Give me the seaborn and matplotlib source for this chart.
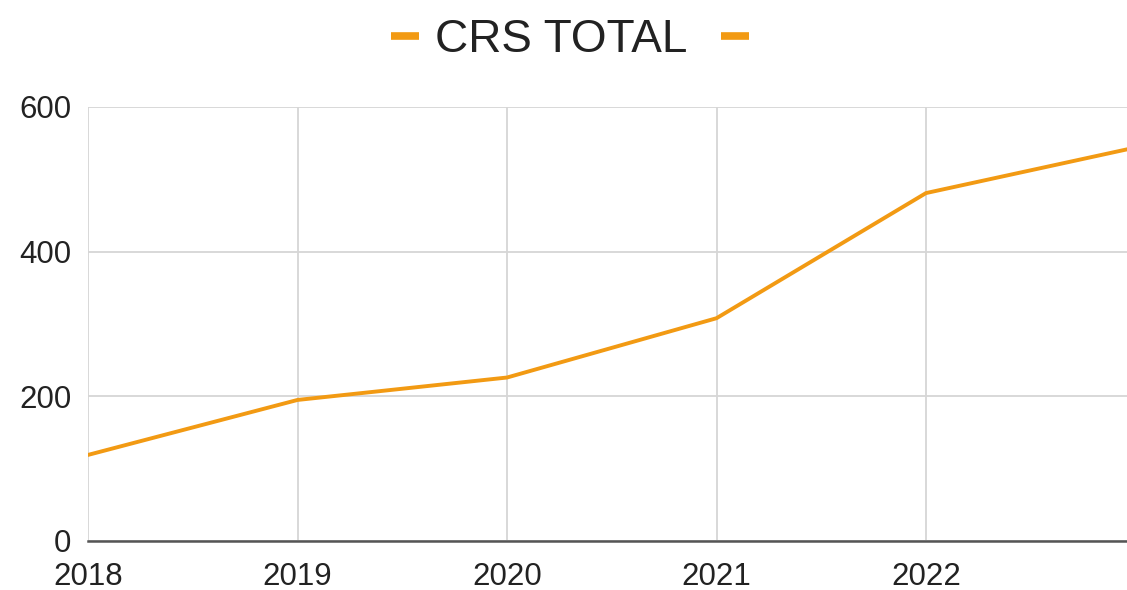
import matplotlib
matplotlib.use("Agg")
import matplotlib.pyplot as plt
from matplotlib.lines import Line2D
import seaborn as sns
import pandas as pd

# CRS total per year
years = [2018, 2019, 2020, 2021, 2022, 2023]
crs_total = [119, 195, 226, 308, 481, 544]
y_ticks = [0, 200, 400, 600]
x_ticks = [2018, 2019, 2020, 2021, 2022]
series_name = "CRS TOTAL"

LINE_COLOR = "#F29A13"
TEXT_COLOR = "#222222"
GRID_COLOR = "#d6d6d6"

sns.set_theme(style="whitegrid")
plt.rcParams["font.family"] = ["Liberation Sans", "DejaVu Sans"]

df = pd.DataFrame({"year": years, "value": crs_total})

W, H = 1127, 590
fig = plt.figure(figsize=(W / 100, H / 100), dpi=100)
# the plot area runs slightly past the right edge of the canvas
ax = fig.add_axes([88 / W, 1 - 541 / H, 1047.5 / W, (541 - 107) / H])

sns.lineplot(data=df, x="year", y="value", ax=ax, color=LINE_COLOR,
             linewidth=2.8, legend=False)

ax.set_xlim(2018, 2023)
ax.set_ylim(0, 600)
ax.set_xticks(x_ticks)
ax.set_yticks(y_ticks)
ax.set_xticklabels([str(t) for t in x_ticks])
ax.set_xlabel("")
ax.set_ylabel("")

ax.grid(True, color=GRID_COLOR, linewidth=1.3)
ax.set_axisbelow(True)
for side in ("top", "right", "left"):
    ax.spines[side].set_visible(False)
ax.spines["bottom"].set_color("#555555")
ax.spines["bottom"].set_linewidth(1.8)
ax.spines["bottom"].set_zorder(3)

ax.tick_params(axis="y", labelsize=22.5, labelcolor=TEXT_COLOR, length=0, pad=12)
ax.tick_params(axis="x", labelsize=22.5, labelcolor=TEXT_COLOR, length=0, pad=15)

handle = Line2D([0], [0], color=LINE_COLOR, linewidth=5.5, solid_capstyle="butt")
fig.legend([handle, handle], [series_name, ""], loc="center",
           bbox_to_anchor=(578 / W, 1 - 40 / H), ncol=2, frameon=False,
           fontsize=33, handlelength=0.6, handletextpad=0.35,
           columnspacing=0.75, labelcolor=TEXT_COLOR)

fig.savefig("out.png", dpi=100, facecolor="white")
